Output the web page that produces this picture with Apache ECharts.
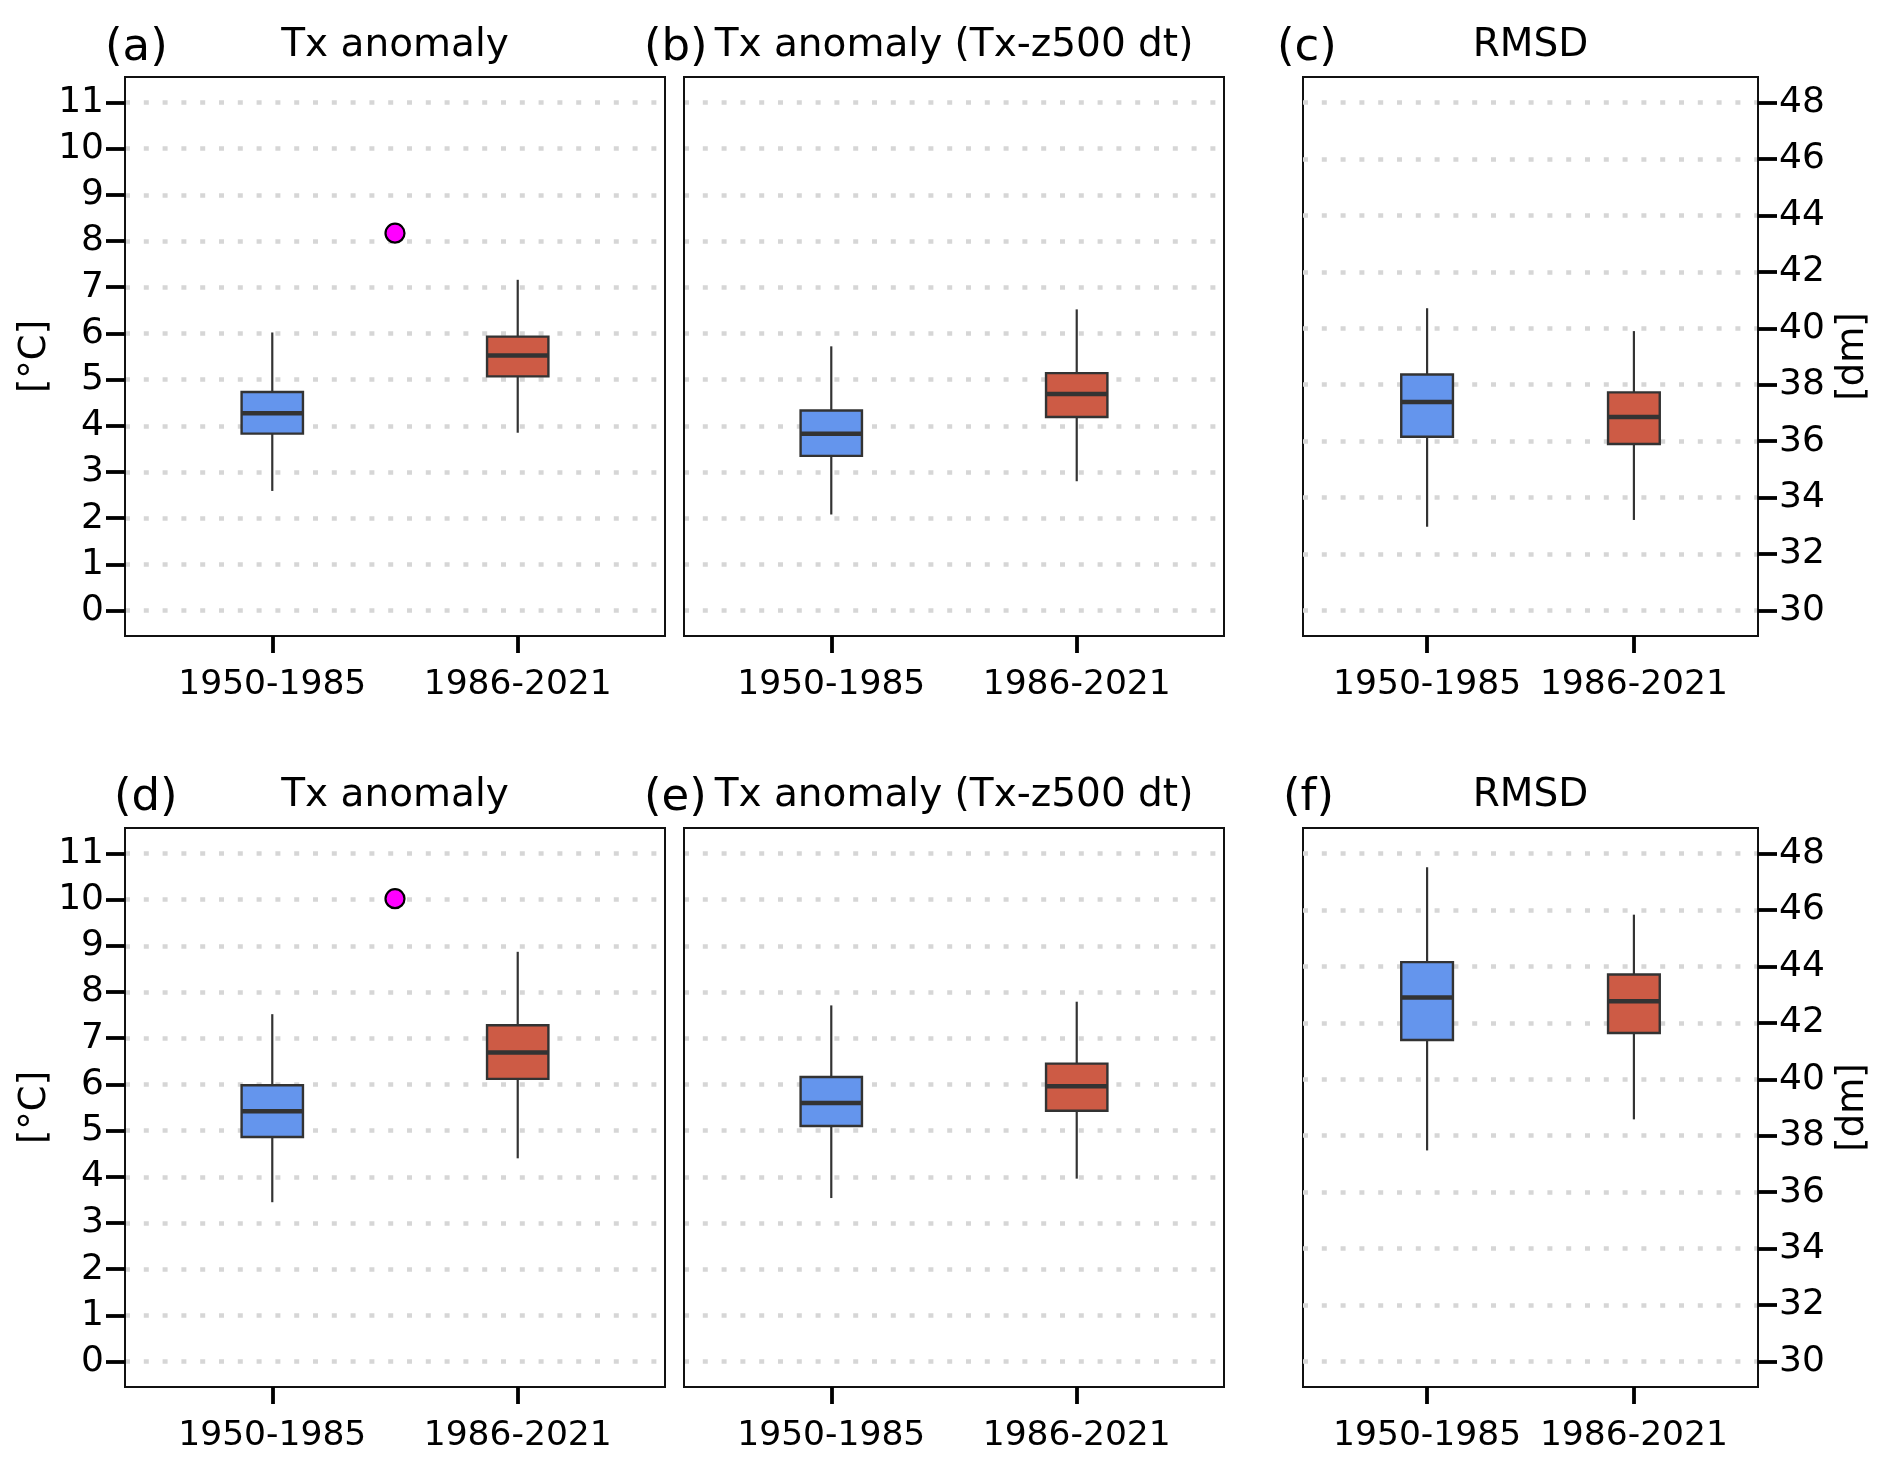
<!DOCTYPE html>
<html>
<head>
<meta charset="utf-8">
<script src="https://cdn.jsdelivr.net/npm/echarts@6/dist/echarts.min.js"></script>
<style>
  html, body { margin: 0; padding: 0; background: #fff; }
  #chart { width: 1892px; height: 1471px; }
</style>
</head>
<body>
<div id="chart"></div>
<script>
// periods on the x axis (boxes sit at x = 1 and 2)
var periods = ['1950-1985', '1986-2021'];
var periodPos = [1, 2];
var tempTicks = [0, 1, 2, 3, 4, 5, 6, 7, 8, 9, 10, 11];
var rmsdTicks = [30, 32, 34, 36, 38, 40, 42, 44, 46, 48];
var boxColors = ['#6495ED', '#CD5B45'];

// each row: [low whisker, Q1, median, Q3, high whisker]
var txAnomTop = [[2.59, 3.83, 4.27, 4.73, 6.02], [3.85, 5.07, 5.52, 5.93, 7.16]];
var txDtTop = [[2.08, 3.35, 3.83, 4.33, 5.72], [2.80, 4.19, 4.69, 5.14, 6.52]];
var rmsdTop = [[32.97, 36.16, 37.39, 38.36, 40.71], [33.21, 35.90, 36.86, 37.73, 39.90]];
var txAnomBottom = [[3.45, 4.86, 5.42, 5.98, 7.52], [4.40, 6.12, 6.69, 7.28, 8.87]];
var txDtBottom = [[3.54, 5.10, 5.60, 6.16, 7.71], [3.96, 5.43, 5.96, 6.45, 7.79]];
var rmsdBottom = [[37.48, 41.39, 42.90, 44.15, 47.51], [38.58, 41.64, 42.76, 43.71, 45.83]];

// magenta points [x, value]
var pointTop = [[1.5, 8.17]];
var pointBottom = [[1.5, 10.02]];

var FONT = 'DejaVu Sans';
var BOX_W = 0.25;

var panels = [
    {label: '(a)', title: 'Tx anomaly', stats: txAnomTop, points: pointTop, kind: 't',
        left: 125, top: 77, width: 540, labelX: 105, row: 0},
    {label: '(b)', title: 'Tx anomaly (Tx-z500 dt)', stats: txDtTop, points: null, kind: 'd',
        left: 684, top: 77, width: 540, labelX: 644, row: 0},
    {label: '(c)', title: 'RMSD', stats: rmsdTop, points: null, kind: 'r',
        left: 1303, top: 77, width: 455, labelX: 1277, row: 0},
    {label: '(d)', title: 'Tx anomaly', stats: txAnomBottom, points: pointBottom, kind: 't',
        left: 125, top: 828, width: 540, labelX: 114, row: 1},
    {label: '(e)', title: 'Tx anomaly (Tx-z500 dt)', stats: txDtBottom, points: null, kind: 'd',
        left: 684, top: 828, width: 540, labelX: 644, row: 1},
    {label: '(f)', title: 'RMSD', stats: rmsdBottom, points: null, kind: 'r',
        left: 1303, top: 828, width: 455, labelX: 1283, row: 1}
];

function renderBox(params, api) {
    var x = api.value(0);
    var lo = api.coord([x, api.value(1)]);
    var q1 = api.coord([x + BOX_W / 2, api.value(2)]);
    var md = api.coord([x - BOX_W / 2, api.value(3)]);
    var q3 = api.coord([x - BOX_W / 2, api.value(4)]);
    var hi = api.coord([x, api.value(5)]);
    var fill = boxColors[params.dataIndex];
    return {
        type: 'group',
        children: [
            {type: 'line', shape: {x1: lo[0], y1: lo[1], x2: lo[0], y2: q1[1]},
                style: {stroke: '#333', lineWidth: 2.2}},
            {type: 'line', shape: {x1: hi[0], y1: q3[1], x2: hi[0], y2: hi[1]},
                style: {stroke: '#333', lineWidth: 2.2}},
            {type: 'rect', shape: {x: q3[0], y: q3[1], width: q1[0] - q3[0], height: q1[1] - q3[1]},
                style: {fill: fill, stroke: '#333', lineWidth: 2.4}},
            {type: 'line', shape: {x1: md[0], y1: md[1], x2: q1[0], y2: md[1]},
                style: {stroke: '#333', lineWidth: 4.5}}
        ]
    };
}

var grids = [], xAxes = [], yAxes = [], series = [], graphics = [];

panels.forEach(function (p, i) {
    grids.push({
        left: p.left, top: p.top, width: p.width, height: 559,
        show: true, borderColor: '#111', borderWidth: 2, backgroundColor: '#fff'
    });
    xAxes.push({
        type: 'value', gridIndex: i, min: 0.4, max: 2.6,
        axisLine: {show: true, onZero: false, lineStyle: {color: '#111', width: 2}},
        axisTick: {show: true, customValues: periodPos, length: 17, lineStyle: {color: '#000', width: 3.8}},
        axisLabel: {
            show: true, customValues: periodPos, margin: 32, fontSize: 34.5,
            fontFamily: FONT, color: '#000',
            formatter: function (v) { return periods[Math.round(v) - 1]; }
        },
        splitLine: {show: false}
    });
    var isR = p.kind === 'r';
    yAxes.push({
        type: 'value', gridIndex: i,
        position: isR ? 'right' : 'left',
        min: isR ? 29.1 : -0.55, max: isR ? 48.9 : 11.55,
        name: isR ? '[dm]' : (p.kind === 't' ? '[°C]' : ''),
        nameLocation: 'middle', nameRotate: 90,
        nameGap: isR ? 77 : 67,
        nameTextStyle: {fontSize: 37, fontFamily: FONT, color: '#000'},
        axisLine: {show: true, lineStyle: {color: '#111', width: 2}},
        axisTick: {show: p.kind !== 'd', customValues: isR ? rmsdTicks : tempTicks, length: 19,
            lineStyle: {color: '#000', width: 3.8}},
        axisLabel: {show: p.kind !== 'd', customValues: isR ? rmsdTicks : tempTicks, margin: 21,
            fontSize: 36, fontFamily: FONT, color: '#000'},
        splitLine: {show: true, lineStyle: {color: '#d6d6d6', width: 4.5, type: [5, 13.8]}}
    });
    series.push({
        type: 'custom', xAxisIndex: i, yAxisIndex: i,
        renderItem: renderBox,
        encode: {x: 0, y: [1, 2, 3, 4, 5]},
        data: p.stats.map(function (s, k) { return [periodPos[k]].concat(s); }),
        z: 3
    });
    if (p.points) {
        series.push({
            type: 'scatter', xAxisIndex: i, yAxisIndex: i,
            data: p.points, symbolSize: 19,
            itemStyle: {color: '#FF00FF', borderColor: '#000', borderWidth: 2.2, opacity: 1},
            z: 4
        });
    }
    var rowY = p.row === 0 ? 0 : 750;
    graphics.push({
        type: 'text', x: p.left + p.width / 2, y: 46 + rowY,
        style: {text: p.title, fontSize: 39, fontFamily: FONT, fill: '#000',
            align: 'center', verticalAlign: 'middle'}
    });
    graphics.push({
        type: 'text', x: p.labelX, y: 48 + rowY,
        style: {text: p.label, fontSize: 45, fontFamily: FONT, fill: '#000',
            align: 'left', verticalAlign: 'middle'}
    });
});

var chart = echarts.init(document.getElementById('chart'), null, {renderer: 'canvas'});
chart.setOption({
    animation: false,
    backgroundColor: '#fff',
    grid: grids,
    xAxis: xAxes,
    yAxis: yAxes,
    series: series,
    graphic: graphics
});
</script>
</body>
</html>
